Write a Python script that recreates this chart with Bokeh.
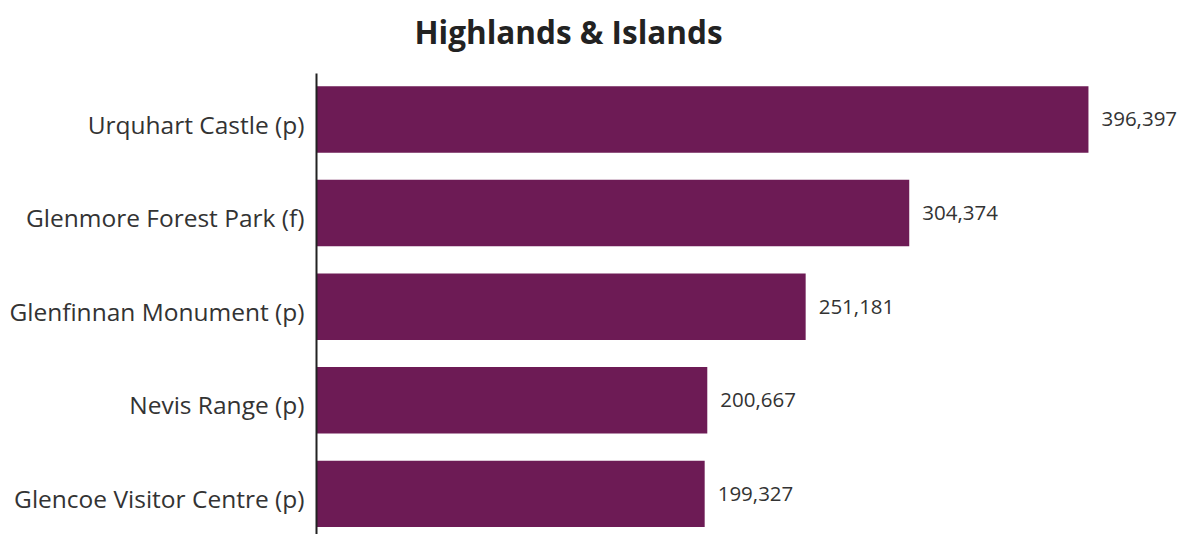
from bokeh.plotting import figure
from bokeh.models import Range1d, FixedTicker, ColumnDataSource
from bokeh.core.properties import value
from bokeh.embed import file_html
from bokeh.resources import INLINE

categories = ["Urquhart Castle (p)", "Glenmore Forest Park (f)", "Glenfinnan Monument (p)",
              "Nevis Range (p)", "Glencoe Visitor Centre (p)"]
visitors = [396397, 304374, 251181, 200667, 199327]
labels = ["396,397", "304,374", "251,181", "200,667", "199,327"]
title_text = ["Highlands & Islands"]

FONT = "Open Sans"
pos = list(range(len(categories)))
label_pos = [i + 0.05 for i in pos]

src = ColumnDataSource(dict(y=pos, v=visitors, lab=labels))

p = figure(width=1194, height=534, output_backend="svg", toolbar_location=None,
           x_range=Range1d(0, 450850), y_range=Range1d(4.434, -1.271),
           min_border_left=316, min_border_top=0, min_border_bottom=0, min_border_right=0)
p.background_fill_color = "white"
p.border_fill_color = "white"
p.outline_line_color = None
p.xgrid.visible = False
p.ygrid.visible = False
p.xaxis.visible = False

p.hbar(y="y", right="v", left=0, height=0.71, source=src,
       fill_color="#6D1B55", line_color=None)
p.text(x="v", y="y", text="lab", source=src, x_offset=13, y_offset=0,
       text_font=value(FONT), text_font_size="20.5px", text_color="#333333",
       text_baseline="middle", text_align="left")

ax = p.yaxis[0]
ax.ticker = FixedTicker(ticks=label_pos)
ax.bounds = (-0.491, 4.434)
ax.major_label_overrides = {lp: c for lp, c in zip(label_pos, categories)}
ax.major_tick_line_color = None
ax.minor_tick_line_color = None
ax.major_tick_out = 0
ax.major_tick_in = 0
ax.axis_line_color = "#222222"
ax.axis_line_width = 2
ax.major_label_standoff = 12
ax.major_label_text_font = FONT
ax.major_label_text_font_size = "24.5px"
ax.major_label_text_color = "#333333"

tsrc = ColumnDataSource(dict(x=[(568 - 316) * 513.5], y=[-0.94], t=title_text))
p.text(x="x", y="y", text="t", source=tsrc, text_align="center",
       text_baseline="middle", text_font=value(FONT), text_font_style="bold",
       text_font_size="31.5px", text_color="#222222")

open("out.html", "w").write(file_html(p, INLINE))
